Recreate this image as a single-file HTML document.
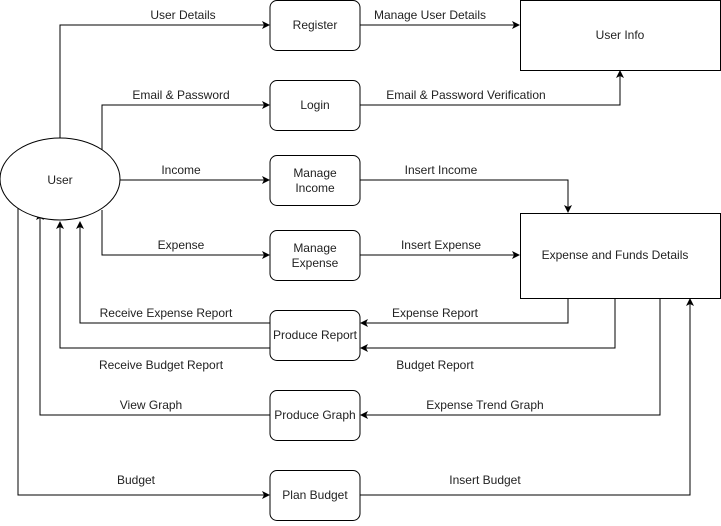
<!DOCTYPE html>
<html><head><style>body{margin:0;background:#fff}</style></head><body>
<svg width="721" height="521" xmlns="http://www.w3.org/2000/svg" font-family="Liberation Sans, Arial, sans-serif" font-size="12">
<defs><marker id="a" markerWidth="8" markerHeight="8" refX="7" refY="4" orient="auto" markerUnits="userSpaceOnUse"><path d="M0,0 L8,4 L0,8 L2,4 z" fill="#000"/></marker></defs>
<g fill="none" stroke="#000" stroke-width="1">
<path d="M60,138 V25 H269" marker-end="url(#a)"/>
<path d="M360,25 H519" marker-end="url(#a)"/>
<path d="M102,150 V105 H269" marker-end="url(#a)"/>
<path d="M360,105 H620 V71" marker-end="url(#a)"/>
<path d="M120,180 H269" marker-end="url(#a)"/>
<path d="M360,180 H568 V212" marker-end="url(#a)"/>
<path d="M102,210 V255 H269" marker-end="url(#a)"/>
<path d="M360,255 H519" marker-end="url(#a)"/>
<path d="M568,298 V323 H361" marker-end="url(#a)"/>
<path d="M270,323 H80 V222" marker-end="url(#a)"/>
<path d="M615,298 V348 H361" marker-end="url(#a)"/>
<path d="M270,348 H60 V222" marker-end="url(#a)"/>
<path d="M660,298 V415 H361" marker-end="url(#a)"/>
<path d="M270,415 H40 V213" marker-end="url(#a)"/>
<path d="M18,205 V495 H269" marker-end="url(#a)"/>
<path d="M360,495 H690 V299" marker-end="url(#a)"/>
<ellipse cx="60" cy="179" rx="60" ry="41" fill="#fff"/>
<rect x="270" y="0.5" width="90" height="50" rx="7" fill="#fff"/>
<rect x="270" y="80.5" width="90" height="50" rx="7" fill="#fff"/>
<rect x="270" y="155.5" width="90" height="50" rx="7" fill="#fff"/>
<rect x="270" y="230.5" width="90" height="50" rx="7" fill="#fff"/>
<rect x="270" y="310.5" width="90" height="50" rx="7" fill="#fff"/>
<rect x="270" y="390.5" width="90" height="50" rx="7" fill="#fff"/>
<rect x="270" y="470.5" width="90" height="50" rx="7" fill="#fff"/>
<rect x="520.5" y="0.5" width="200" height="70" fill="#fff"/>
<rect x="520.5" y="213.5" width="200" height="85" fill="#fff"/>
</g>
<g fill="#222" text-anchor="middle">
<text x="60" y="184">User</text>
<text x="315" y="29">Register</text>
<text x="315" y="109">Login</text>
<text x="315" y="177">Manage</text><text x="315" y="192">Income</text>
<text x="315" y="252">Manage</text><text x="315" y="267">Expense</text>
<text x="315" y="339">Produce Report</text>
<text x="315" y="419">Produce Graph</text>
<text x="315" y="499">Plan Budget</text>
<text x="620" y="39">User Info</text>
<text x="615" y="259">Expense and Funds Details</text>
<text x="183" y="19">User Details</text>
<text x="430" y="19">Manage User Details</text>
<text x="181" y="99">Email &amp; Password</text>
<text x="466" y="99">Email &amp; Password Verification</text>
<text x="181" y="174">Income</text>
<text x="441" y="174">Insert Income</text>
<text x="181" y="249">Expense</text>
<text x="441" y="249">Insert Expense</text>
<text x="435" y="317">Expense Report</text>
<text x="166" y="317">Receive Expense Report</text>
<text x="435" y="369">Budget Report</text>
<text x="161" y="369">Receive Budget Report</text>
<text x="485" y="409">Expense Trend Graph</text>
<text x="151" y="409">View Graph</text>
<text x="136" y="484">Budget</text>
<text x="485" y="484">Insert Budget</text>
</g>
</svg>
</body></html>
